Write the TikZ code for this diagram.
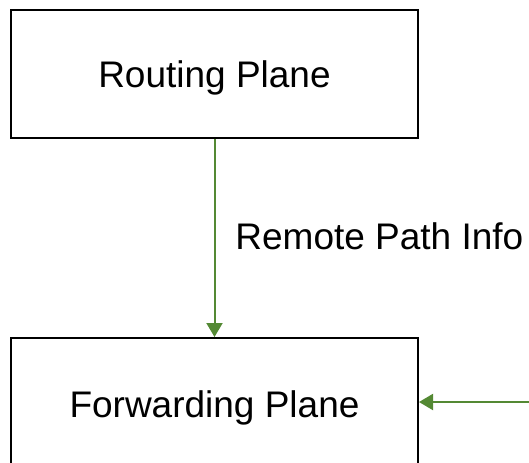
\documentclass[tikz,border=0pt]{standalone}
\usepackage{fontspec}
\setmainfont{Liberation Sans}
\usetikzlibrary{arrows.meta}
\definecolor{arrowgreen}{RGB}{84,137,52}
\begin{document}
\begin{tikzpicture}[x=0.5pt,y=-0.5pt,
  planebox/.style={draw=black,line width=1pt,minimum width=203.5pt,minimum height=64pt,inner sep=0pt,font=\fontsize{18.5}{21}\selectfont},
  greenarrow/.style={draw=arrowgreen,line width=1pt,-{Triangle[length=7pt,width=8pt]}},
  lbl/.style={inner sep=0pt,font=\fontsize{18.5}{21}\selectfont}]
\clip (0,0) rectangle (529,462);
\node[planebox,text height=17.5pt] (rp) at (214.5,74) {Routing Plane};
\node[planebox,text height=19.5pt] (fp) at (214.5,402) {Forwarding Plane};
\coordinate (ext) at (535,402);
\draw[greenarrow] (rp.south) -- (fp.north);
\draw[greenarrow] (ext) -- (fp.east);
\node[lbl,anchor=base west] (rpi) at (235,249) {Remote Path Info};
\end{tikzpicture}
\end{document}
